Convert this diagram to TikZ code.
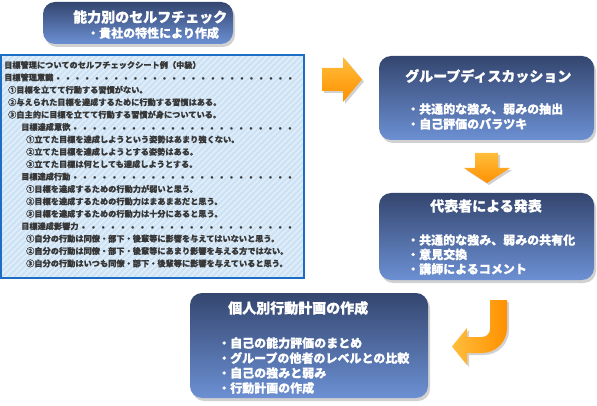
\documentclass[tikz,border=0pt]{standalone}
\usepackage{fontspec}
\newfontfamily\jp{Noto Sans CJK JP}[FakeBold=0.3]
\newfontfamily\jpheavy{Noto Sans CJK JP}[FakeBold=0.8]
\usetikzlibrary{shadows}
\definecolor{boxtop}{HTML}{34466F}
\definecolor{boxbot}{HTML}{6C90D3}
\definecolor{frameblue}{HTML}{1B6EC2}
\definecolor{lightbg}{HTML}{CDE3F5}
\definecolor{txtgray}{HTML}{383838}
\definecolor{orlight}{HTML}{FFBE3C}
\definecolor{ordark}{HTML}{FF9000}
\tikzset{
 bluebox/.style={rounded corners=12pt, top color=boxtop, bottom color=boxbot, draw=none, inner sep=0pt,
   drop shadow={shadow xshift=2pt, shadow yshift=-3pt, opacity=0.3, fill=black!60}},
 boxtitle/.style={anchor=west, inner sep=0pt, text=white, font=\jpheavy\bfseries\fontsize{14}{16}\selectfont},
 boxitem/.style={anchor=west, inner sep=0pt, text=white, font=\jpheavy\bfseries\fontsize{12}{14}\selectfont},
 sheettxt/.style={anchor=west, inner sep=0pt, text=txtgray, font=\jp\bfseries\fontsize{8.2}{9}\selectfont},
 orarrow/.style={draw=none, drop shadow={shadow xshift=2pt, shadow yshift=-2pt, opacity=0.3, fill=black!60}},
}
\newcommand{\dotline}[2]{\hbox to #1{#2\xleaders\hbox to 9.5pt{\hss\scalebox{0.8}{$\bullet$}\hss}\hfill}}
\begin{document}
\begin{tikzpicture}[x=1pt,y=1pt]
\useasboundingbox (0,0) rectangle (597,-406);

% top box
\node[bluebox, minimum width=190pt, minimum height=42pt] (top) at (138,-23) {};
\node[boxtitle] (toptitle) at (73,-17) {能力別のセルフチェック};
\node[boxitem] (topitem) at (87,-33) {・貴社の特性により作成};

% sheet box
\node[fill=lightbg, draw=none, minimum width=303pt, minimum height=223pt, inner sep=0pt] (sheet) at (152.5,-166.5) {};
\begin{scope}
\clip (sheet.south west) rectangle (sheet.north east);
\foreach \i in {-250,-244,...,320} \draw[white, opacity=0.4, line width=1.6pt] (\i,-280) -- ++(230,230);
\end{scope}
\draw[frameblue, line width=2.5pt] (sheet.south west) rectangle (sheet.north east);

\node[sheettxt] (s0) at (4,-65) {目標管理についてのセルフチェックシート例（中級）};
\node[sheettxt] (s1) at (4,-77.4) {\dotline{291pt}{目標管理意識}};
\node[sheettxt] (s2) at (8,-89.8) {①目標を立てて行動する習慣がない。};
\node[sheettxt] (s3) at (8,-102.2) {②与えられた目標を達成するために行動する習慣はある。};
\node[sheettxt] (s4) at (8,-114.6) {③自主的に目標を立てて行動する習慣が身についている。};
\node[sheettxt] (s5) at (21,-127) {\dotline{274pt}{目標達成意欲}};
\node[sheettxt] (s6) at (26,-139.4) {①立てた目標を達成しようという姿勢はあまり強くない。};
\node[sheettxt] (s7) at (26,-151.8) {②立てた目標を達成しようとする姿勢はある。};
\node[sheettxt] (s8) at (26,-164.2) {③立てた目標は何としても達成しようとする。};
\node[sheettxt] (s9) at (21,-176.6) {\dotline{274pt}{目標達成行動}};
\node[sheettxt] (s10) at (26,-189) {①目標を達成するための行動力が弱いと思う。};
\node[sheettxt] (s11) at (26,-201.4) {②目標を達成するための行動力はまあまあだと思う。};
\node[sheettxt] (s12) at (26,-213.8) {③目標を達成するための行動力は十分にあると思う。};
\node[sheettxt] (s13) at (21,-226.2) {\dotline{274pt}{目標達成影響力}};
\node[sheettxt] (s14) at (26,-238.6) {①自分の行動は同僚・部下・後輩等に影響を与えてはいないと思う。};
\node[sheettxt] (s15) at (26,-251) {②自分の行動は同僚・部下・後輩等にあまり影響を与える方ではない。};
\node[sheettxt] (s16) at (26,-263.4) {③自分の行動はいつも同僚・部下・後輩等に影響を与えていると思う。};

% group discussion box
\node[bluebox, minimum width=215pt, minimum height=84pt] (group) at (486.5,-98) {};
\node[boxtitle] (gtitle) at (405,-76) {グループディスカッション};
\node[boxitem] (g1) at (407,-109) {・共通的な強み、弱みの抽出};
\node[boxitem] (g2) at (407,-124) {・自己評価のバラツキ};

% presentation box
\node[bluebox, minimum width=215pt, minimum height=87pt] (pres) at (486.5,-236.5) {};
\node[boxtitle] (ptitle) at (430,-206) {代表者による発表};
\node[boxitem] (p1) at (407,-240) {・共通的な強み、弱みの共有化};
\node[boxitem] (p2) at (407,-254.5) {・意見交換};
\node[boxitem] (p3) at (407,-269) {・講師によるコメント};

% individual plan box
\node[bluebox, minimum width=238pt, minimum height=105pt] (indiv) at (309,-345.5) {};
\node[boxtitle] (ititle) at (228,-308) {個人別行動計画の作成};
\node[boxitem] (i1) at (218,-343) {・自己の能力評価のまとめ};
\node[boxitem] (i2) at (218,-358) {・グループの他者のレベルとの比較};
\node[boxitem] (i3) at (218,-373) {・自己の強みと弱み};
\node[boxitem] (i4) at (218,-388) {・行動計画の作成};

% arrows
\path[orarrow, top color=orlight, bottom color=ordark]
  (322,-68) -- (343,-68) -- (343,-57) -- (362,-79.5) -- (343,-102) -- (343,-91) -- (322,-91) -- cycle;
\path[orarrow, top color=orlight, bottom color=ordark]
  (475,-153) -- (498,-153) -- (498,-168) -- (510,-168) -- (487,-183) -- (464,-168) -- (475,-168) -- cycle;
\path[orarrow, left color=orlight, right color=ordark]
  (490,-300) -- (507,-300) -- (507,-328) arc[start angle=0, end angle=-90, radius=25pt]
  -- (467,-353) -- (467,-365) -- (452,-346.5) -- (467,-328) -- (467,-337) -- (482,-337)
  arc[start angle=-90, end angle=0, radius=8pt] -- cycle;
\end{tikzpicture}
\end{document}
